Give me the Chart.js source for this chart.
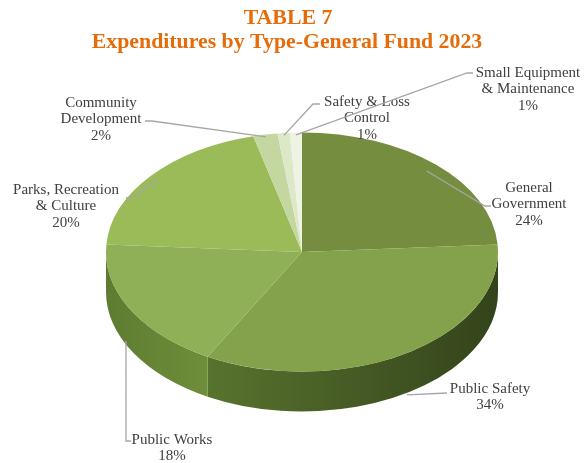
<!DOCTYPE html>
<html>
<head>
<meta charset="utf-8">
<script src="https://cdn.jsdelivr.net/npm/chart.js@4.4.1/dist/chart.umd.min.js"></script>
<style>
	html, body { margin: 0; padding: 0; background: #fff; }
	#wrap { width: 587px; height: 463px; }
</style>
</head>
<body>
<div id="wrap"><canvas id="pie-chart-type" width="587" height="463"></canvas></div>
<script>
var categories = ["General Government", "Public Safety", "Public Works", "Parks, Recreation & Culture",
	"Community Development", "Safety & Loss Control", "Small Equipment & Maintenance"];
var shares = [24, 34, 18, 20, 2, 1, 1];
var labelLines = [["General", "Government"], ["Public Safety"], ["Public Works"], ["Parks, Recreation", "& Culture"],
	["Community", "Development"], ["Safety & Loss", "Control"], ["Small Equipment", "& Maintenance"]];
var topColors = ["#758d3e", "#84a24b", "#8fb056", "#9bbb59", "#c4d7a0", "#dce8c8", "#eef3e4"];
// side wall gradient: colour at slice start, colour at slice end
var sideColors = [["#5a722c", "#4a5f25"], ["#33431b", "#58732e"], ["#6f8e3a", "#5e7c31"], ["#6b8a37", "#6b8a37"],
	["#9aae78", "#9aae78"], ["#b3c29a", "#b3c29a"], ["#c7d1b6", "#c7d1b6"]];

// where each label sits; rf/dy place the leader end on the pie
var labelLayout = [
	{ x: 529, y: 188, rf: 0.93, dy: 0, path: [[485, 206], [491, 206]] },
	{ x: 490, y: 389, rf: 1.0, dy: 42, path: [[447, 393]] },
	{ x: 172, y: 440, rf: 1.025, dy: 30, path: [[126, 441], [131, 441]] },
	{ x: 66, y: 190, rf: 0.96, dy: 0, path: [[133, 198], [126, 198]] },
	{ x: 101, y: 103, rf: 0.98, dy: 0, path: [[152, 121], [145, 121]] },
	{ x: 367, y: 102, rf: 0.98, dy: 0, path: [[313, 104], [320, 104]] },
	{ x: 528, y: 73, rf: 0.98, dy: 0, path: [[467, 73], [473, 73]] }
];

var pieCenterY = 252;
var tilt = 0.61;
var depth = 40;

var total = shares.reduce(function(a, b) { return a + b; }, 0);

function pieGeom(chart) {
	var a = chart.getDatasetMeta(0).data[0];
	return { cx: a.x, cy: a.y, r: a.outerRadius };
}

function onPie(g, angle, rf, dy) {
	return {
		x: g.cx + g.r * rf * Math.cos(angle),
		y: pieCenterY + g.r * tilt * rf * Math.sin(angle) + dy
	};
}

var pie3d = {
	id: "pie3d",
	beforeDatasetsDraw: function(chart) {
		var ctx = chart.ctx;
		var g = pieGeom(chart);
		var ry = g.r * tilt;
		var meta = chart.getDatasetMeta(0);

		// front wall of the disc
		meta.data.forEach(function(arc, i) {
			var lo = Math.max(arc.startAngle, 0);
			var hi = Math.min(arc.endAngle, Math.PI);
			if (lo >= hi) return;
			var x1 = g.cx + g.r * Math.cos(lo);
			var x2 = g.cx + g.r * Math.cos(hi);
			var grad = ctx.createLinearGradient(x1, 0, x2, 0);
			grad.addColorStop(0, sideColors[i][0]);
			grad.addColorStop(1, sideColors[i][1]);
			ctx.beginPath();
			ctx.ellipse(g.cx, pieCenterY, g.r, ry, 0, lo, hi);
			ctx.ellipse(g.cx, pieCenterY + depth, g.r, ry, 0, hi, lo, true);
			ctx.closePath();
			ctx.fillStyle = grad;
			ctx.fill();
		});

		// squash the top face into an ellipse
		ctx.save();
		ctx.translate(g.cx, pieCenterY);
		ctx.scale(1, tilt);
		ctx.translate(-g.cx, -g.cy);
	},
	afterDatasetsDraw: function(chart) {
		var ctx = chart.ctx;
		ctx.restore();

		var g = pieGeom(chart);
		var meta = chart.getDatasetMeta(0);

		ctx.save();
		ctx.font = "15px 'Liberation Serif', 'Times New Roman', serif";
		ctx.textAlign = "center";
		ctx.textBaseline = "middle";
		meta.data.forEach(function(arc, i) {
			var lay = labelLayout[i];
			var mid = (arc.startAngle + arc.endAngle) / 2;
			var p = onPie(g, mid, lay.rf, lay.dy);

			ctx.beginPath();
			ctx.moveTo(p.x, p.y);
			lay.path.forEach(function(q) { ctx.lineTo(q[0], q[1]); });
			ctx.strokeStyle = "#a6a6a6";
			ctx.lineWidth = 1.3;
			ctx.stroke();

			var lines = labelLines[i].concat([Math.round(shares[i] / total * 100) + "%"]);
			ctx.fillStyle = "#404040";
			lines.forEach(function(t, k) {
				ctx.fillText(t, lay.x, lay.y + k * 16.5);
			});
		});

		// heading
		ctx.fillStyle = "#e46c0a";
		ctx.font = "bold 21.8px 'Liberation Serif', 'Times New Roman', serif";
		ctx.fillText("TABLE 7", 288, 18);
		ctx.fillText("Expenditures by Type-General Fund 2023", 287, 42);
		ctx.restore();
	}
};

var ctx = document.getElementById("pie-chart-type").getContext("2d");
var myChartType = new Chart(ctx, {
	type: "pie",
	data: {
		labels: categories,
		datasets: [
			{
				data: shares,
				backgroundColor: topColors,
				borderWidth: 0
			}
		]
	},
	options: {
		responsive: false,
		animation: false,
		layout: { padding: { left: 106, right: 89, top: 30, bottom: 41 } },
		plugins: {
			legend: { display: false },
			tooltip: { enabled: false }
		}
	},
	plugins: [pie3d]
});
</script>
</body>
</html>
